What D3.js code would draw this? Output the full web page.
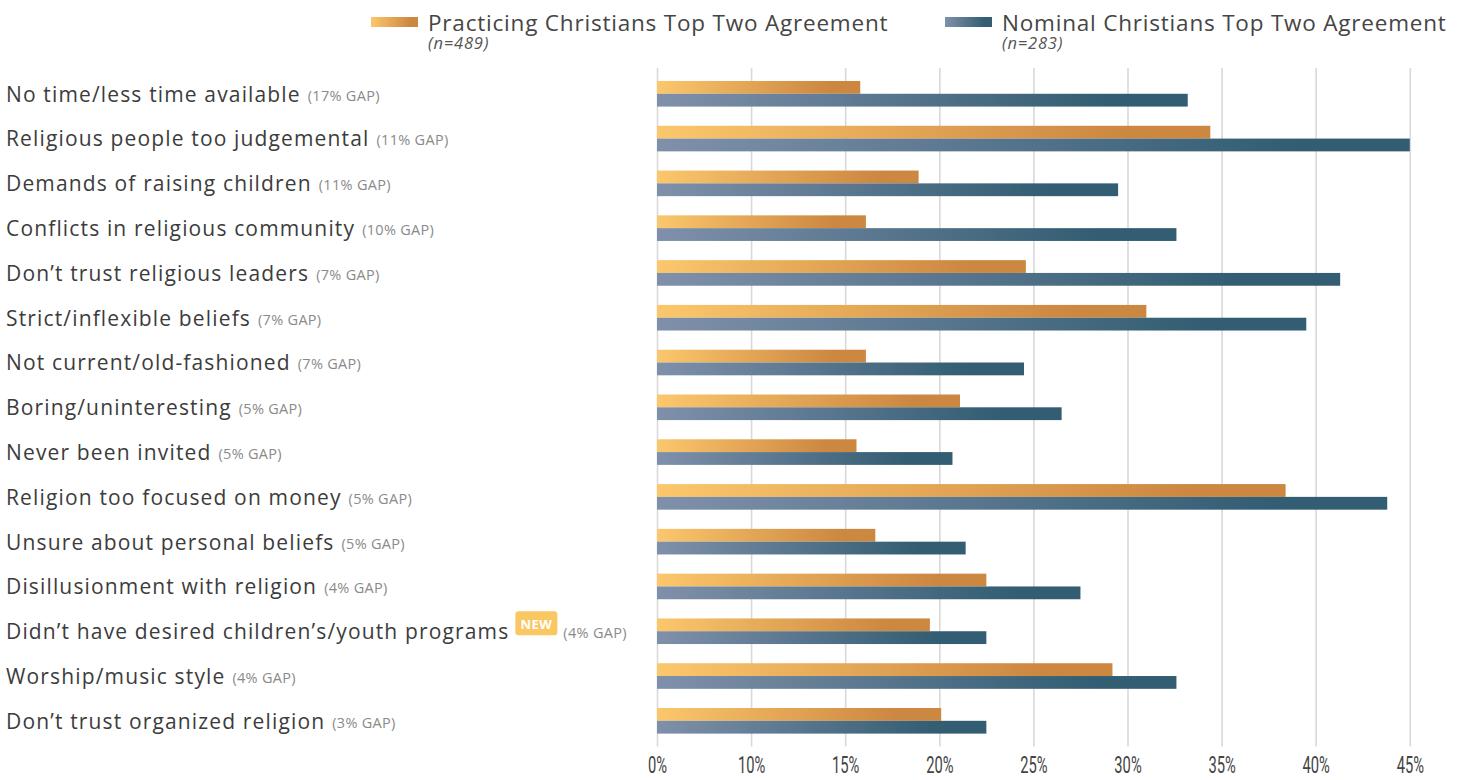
<!DOCTYPE html>
<html>
<head>
<meta charset="utf-8">
<script src="https://cdn.jsdelivr.net/npm/d3@7"></script>
<style>
  html, body { margin: 0; padding: 0; background: #ffffff; }
  svg { display: block; font-family: "Open Sans", "Noto Sans", sans-serif; }
</style>
</head>
<body>
<svg id="chart" width="1465" height="780"></svg>
<script>
// ---------- DATA ----------
const categories = [
  "No time/less time available",
  "Religious people too judgemental",
  "Demands of raising children",
  "Conflicts in religious community",
  "Don\u2019t trust religious leaders",
  "Strict/inflexible beliefs",
  "Not current/old-fashioned",
  "Boring/uninteresting",
  "Never been invited",
  "Religion too focused on money",
  "Unsure about personal beliefs",
  "Disillusionment with religion",
  "Didn\u2019t have desired children\u2019s/youth programs",
  "Worship/music style",
  "Don\u2019t trust organized religion"
];
const gapLabels = ["17% GAP","11% GAP","11% GAP","10% GAP","7% GAP","7% GAP","7% GAP","5% GAP","5% GAP","5% GAP","5% GAP","4% GAP","4% GAP","4% GAP","3% GAP"];
const newFlags = [false,false,false,false,false,false,false,false,false,false,false,false,true,false,false];
const practicing = [15.8, 34.4, 18.9, 16.1, 24.6, 31.0, 16.1, 21.1, 15.6, 38.4, 16.6, 22.5, 19.5, 29.2, 20.1];
const nominal    = [33.2, 45.0, 29.5, 32.6, 41.3, 39.5, 24.5, 26.5, 20.7, 43.8, 21.4, 27.5, 22.5, 32.6, 22.5];
const seriesNames = ["Practicing Christians Top Two Agreement", "Nominal Christians Top Two Agreement"];
const seriesN = ["(n=489)", "(n=283)"];
const tickValues = [0, 10, 15, 20, 25, 30, 35, 40, 45];
const tickLabels = ["0%", "10%", "15%", "20%", "25%", "30%", "35%", "40%", "45%"];

// ---------- SETUP ----------
const svg = d3.select("#chart");
const defs = svg.append("defs");

const gradColors = [
  ["#fbc76c", "#cc8741"],
  ["#8090aa", "#325d72"]
];
gradColors.forEach((c, i) => {
  const g = defs.append("linearGradient").attr("id", "grad" + i)
    .attr("x1", "0%").attr("x2", "100%").attr("y1", "0%").attr("y2", "0%");
  g.append("stop").attr("offset", "0%").attr("stop-color", c[0]);
  g.append("stop").attr("offset", "85%").attr("stop-color", c[1]);
  g.append("stop").attr("offset", "100%").attr("stop-color", c[1]);
});

// axis drawn as printed: 0 -> 10 occupies the same width as every 5-point step
const x = d3.scaleLinear().domain([0, 10, 45]).range([657, 751.1, 1409.8]);
const y = d3.scaleBand().domain(categories).range([68, 746.6])
  .paddingInner(0.4285).paddingOuter(0.29);
const ySub = d3.scaleBand().domain([0, 1]).range([0, y.bandwidth()]);

// ---------- GRID + AXIS ----------
const axis = d3.axisBottom(x)
  .tickValues(tickValues)
  .tickFormat((d, i) => tickLabels[i])
  .tickSize(-(746.6 - 68));
const axisG = svg.append("g").attr("transform", "translate(0,746.6)").call(axis);
axisG.select(".domain").remove();
axisG.selectAll(".tick line").attr("stroke", "#d9d9d9").attr("stroke-width", 1.6);
axisG.selectAll(".tick text")
  .attr("y", 0).attr("dy", null)
  .attr("transform", "translate(0,26.5) scale(0.64,1)")
  .attr("fill", "#444444")
  .style("font-family", "Roboto, sans-serif")
  .style("font-weight", "400")
  .style("font-size", "23px");

// ---------- BARS ----------
const rows = svg.append("g").selectAll("g.row")
  .data(categories).join("g").attr("class", "row")
  .attr("transform", d => `translate(0,${y(d)})`);

rows.selectAll("rect")
  .data((d, i) => [practicing[i], nominal[i]])
  .join("rect")
  .attr("x", x(0))
  .attr("y", (d, j) => ySub(j))
  .attr("width", d => x(d) - x(0))
  .attr("height", ySub.bandwidth())
  .attr("fill", (d, j) => `url(#grad${j})`);

// ---------- CATEGORY LABELS ----------
categories.forEach((c, i) => {
  const base = y(c) + y.bandwidth() / 2 + 7.9;
  const t = svg.append("text")
    .attr("x", 6).attr("y", base)
    .attr("fill", "#3c3c3c")
    .style("font-size", "21px")
    .style("letter-spacing", "1.15px")
    .text(c);
  let xe = 6 + t.node().getBBox().width;
  if (newFlags[i]) {
    const bx = xe + 6;
    svg.append("rect").attr("x", bx).attr("y", base - 28)
      .attr("width", 42).attr("height", 24).attr("rx", 3)
      .attr("fill", "#f9c862");
    svg.append("text").attr("x", bx + 21).attr("y", base - 10.5)
      .attr("text-anchor", "middle").attr("fill", "#ffffff")
      .style("font-size", "13px").style("font-weight", "700")
      .style("letter-spacing", "0.5px")
      .text("NEW");
    xe = bx + 42 - 1;
  }
  svg.append("text")
    .attr("x", xe + 7).attr("y", base - 1)
    .attr("fill", "#8a8a8a")
    .style("font-size", "14.5px")
    .style("letter-spacing", "0.3px")
    .text("(" + gapLabels[i] + ")");
});

// ---------- LEGEND ----------
const legendX = [371, 945];
seriesNames.forEach((s, i) => {
  const g = svg.append("g").attr("transform", `translate(${legendX[i]},0)`);
  g.append("rect").attr("x", 0).attr("y", 17).attr("width", 47).attr("height", 10)
    .attr("fill", `url(#grad${i})`);
  g.append("text").attr("x", 57).attr("y", 30.5)
    .attr("fill", "#454545").style("font-size", "22.5px")
    .style("letter-spacing", "0.8px")
    .text(s);
  g.append("text").attr("x", 57).attr("y", 49)
    .attr("fill", "#555555").style("font-size", "16.5px").style("font-style", "italic")
    .style("letter-spacing", "0.8px")
    .text(seriesN[i]);
});
</script>
</body>
</html>
